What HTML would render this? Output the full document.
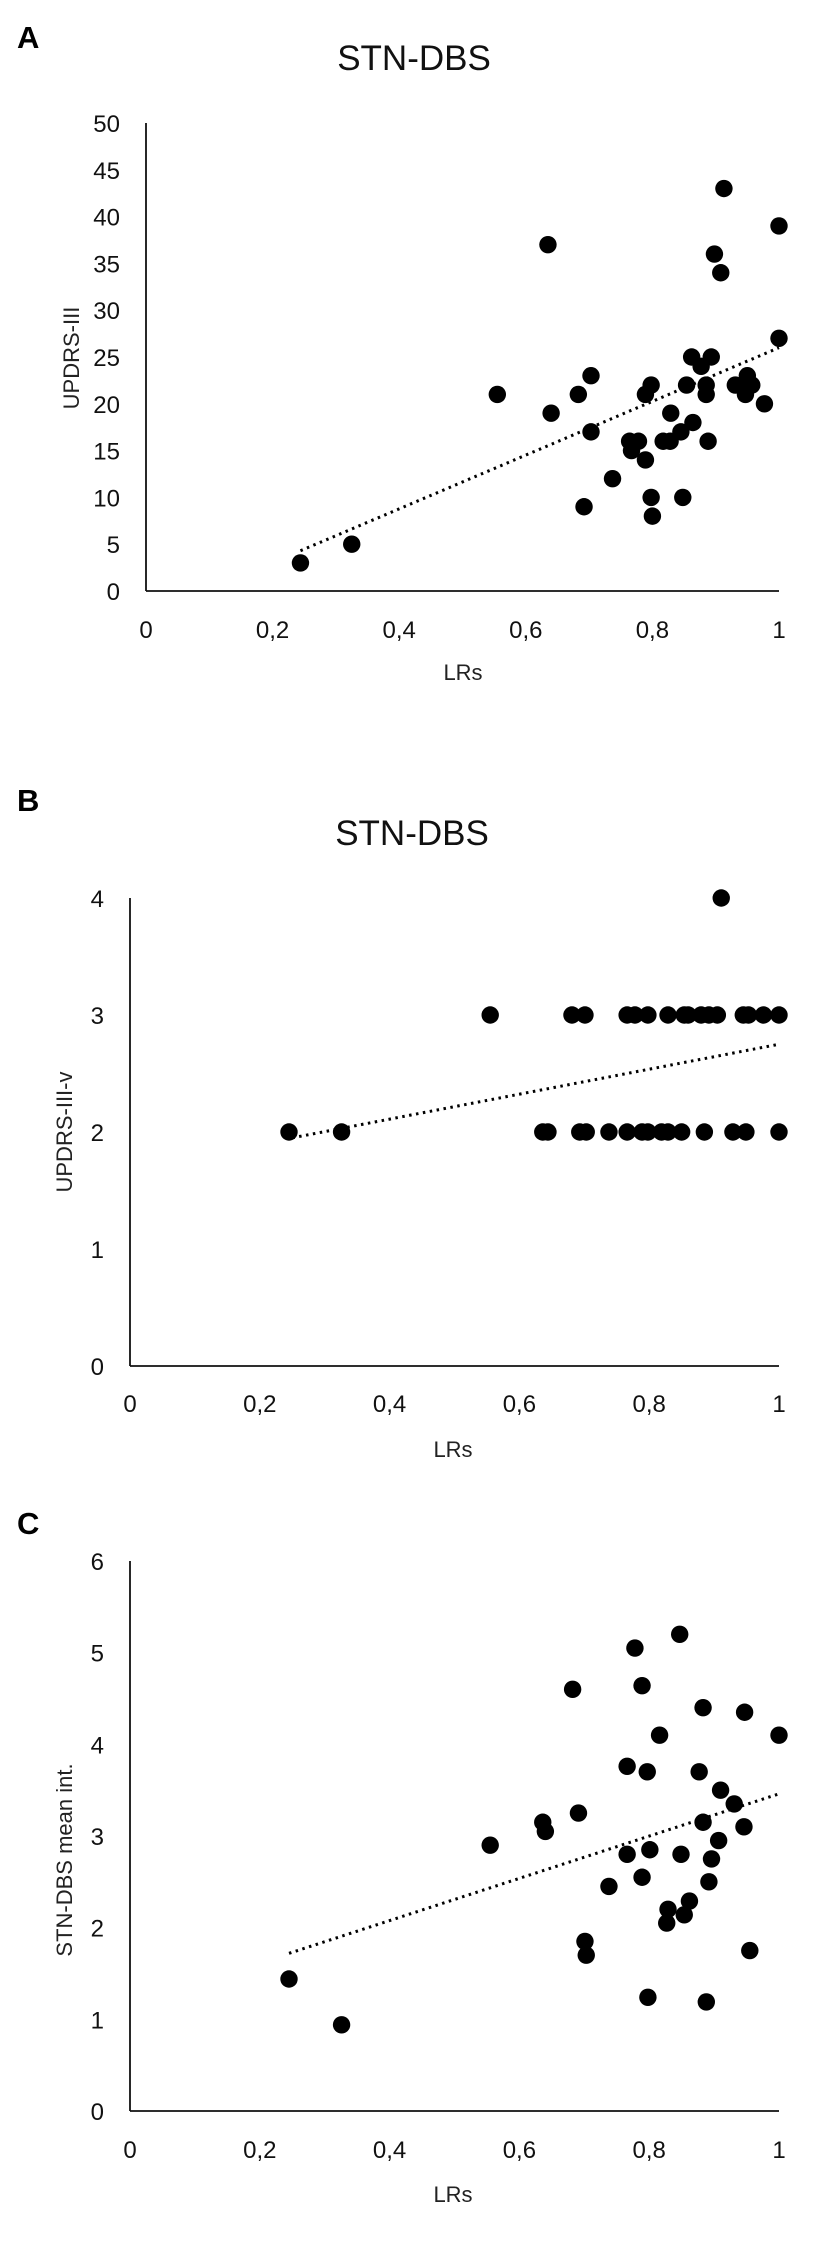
<!DOCTYPE html>
<html><head><meta charset="utf-8"><style>
html,body{margin:0;padding:0;background:#fff;}
svg{display:block;font-family:"Liberation Sans",sans-serif;}
</style></head><body>
<svg id="fig" width="827" height="2255" viewBox="0 0 827 2255" xmlns="http://www.w3.org/2000/svg">
<rect width="827" height="2255" fill="#fff"/>
</svg>
<script>
// Panel A data
const aX = [.244,.325,.555,.635,.64,.683,.692,.703,.703,.737,.764,.767,.778,.789,.789,.798,.798,.8,.817,.828,.829,.845,.848,.854,.864,.862,.877,.885,.885,.888,.893,.898,.908,.913,.931,.95,.947,.957,.977,1.0,1.0];
const aY = [3,5,21,37,19,21,9,23,17,12,16,15,16,14,21,22,10,8,16,16,19,17,10,22,18,25,24,22,21,16,25,36,34,43,22,23,21,22,20,39,27];
const aTrend = [[0.244,4.3],[1.0,26]];
const aYTicks = ["0","5","10","15","20","25","30","35","40","45","50"];
// Panel B data
const bX = [.555,.681,.701,.766,.778,.798,.829,.854,.86,.88,.892,.905,.945,.953,.976,1.0,
            .245,.326,.636,.644,.693,.703,.738,.766,.789,.798,.819,.829,.85,.885,.929,.949,1.0,.911];
const bY = [3,3,3,3,3,3,3,3,3,3,3,3,3,3,3,3,
            2,2,2,2,2,2,2,2,2,2,2,2,2,2,2,2,2,4];
const bTrend = [[0.25,1.95],[1.0,2.75]];
const bYTicks = ["0","1","2","3","4"];
// Panel C data
const cX = [.245,.326,.555,.636,.64,.682,.691,.701,.703,.738,.766,.766,.778,.789,.789,.797,.801,.798,.816,.829,.827,.847,.849,.854,.862,.877,.883,.883,.892,.888,.896,.907,.91,.931,.946,.947,.955,1.0];
const cY = [1.44,.94,2.9,3.15,3.05,4.6,3.25,1.85,1.7,2.45,3.76,2.8,5.05,4.64,2.55,3.7,2.85,1.24,4.1,2.2,2.05,5.2,2.8,2.14,2.29,3.7,4.4,3.15,2.5,1.19,2.75,2.95,3.5,3.35,3.1,4.35,1.75,4.1];
const cTrend = [[0.245,1.72],[1.0,3.46]];
const cYTicks = ["0","1","2","3","4","5","6"];
const xTicks = ["0","0,2","0,4","0,6","0,8","1"];

const NS="http://www.w3.org/2000/svg";
const svg=document.getElementById('fig');
function mk(tag,attrs,parent,text){const e=document.createElementNS(NS,tag);for(const k in attrs)e.setAttribute(k,attrs[k]);if(text!==undefined)e.textContent=text;(parent||svg).appendChild(e);return e;}

function panel(cfg){
  const g=mk('g',{});
  
  
  const sx=v=>cfg.x0+(cfg.x1-cfg.x0)*v;
  const sy=v=>cfg.y0-(cfg.y0-cfg.yTop)*v/cfg.yMax;
  const lab=mk('text',{x:cfg.labX,y:cfg.labY,'font-size':31,'font-weight':'bold'},g,cfg.id.toUpperCase());
  
  
  if(cfg.title){const t=mk('text',{x:cfg.titleX,y:cfg.titleY,'font-size':35,'text-anchor':'middle',fill:'#111'},g,cfg.title);
    
    }
  const ya=mk('line',{x1:cfg.x0,y1:cfg.yTop,x2:cfg.x0,y2:cfg.y0,stroke:'#111','stroke-width':1.8},g);
  
  
  const xa=mk('line',{x1:cfg.x0,y1:cfg.y0,x2:cfg.x1,y2:cfg.y0,stroke:'#111','stroke-width':1.8},g);
  
  
  cfg.yTicks.forEach((t,i)=>{const v=i*cfg.yMax/(cfg.yTicks.length-1);
    const e=mk('text',{x:cfg.x0-26,y:sy(v)+9,'font-size':24,'text-anchor':'end',fill:'#111'},g,t);
    
    });
  xTicks.forEach((t,i)=>{const e=mk('text',{x:sx(i*0.2),y:cfg.xTickY+9,'font-size':24,'text-anchor':'middle',fill:'#111'},g,t);
    
    });
  const xt=mk('text',{x:cfg.xTitleX,y:cfg.xTitleY+8,'font-size':22,'text-anchor':'middle',fill:'#222'},g,'LRs');
  
  
  const yt=mk('text',{x:0,y:0,'font-size':22,'text-anchor':'middle',fill:'#222',transform:`translate(${cfg.yTitleX+8},${cfg.yTitleY}) rotate(-90)`},g,cfg.yTitle);
  
  
  cfg.xs.forEach((v,i)=>{const c=mk('circle',{cx:sx(v),cy:sy(cfg.ys[i]),r:8.7,fill:'#000'},g);
    
    });
  const tl=mk('line',{x1:sx(cfg.trend[0][0]),y1:sy(cfg.trend[0][1]),x2:sx(cfg.trend[1][0]),y2:sy(cfg.trend[1][1]),stroke:'#000','stroke-width':3,'stroke-dasharray':'2.5 4.5','stroke-linecap':'butt'},g);
  
  
}
panel({id:'a',x0:146,x1:779,y0:591,yTop:123,yMax:50,yTicks:aYTicks,xs:aX,ys:aY,trend:aTrend,
  labX:17,labY:48,title:'STN-DBS',titleX:414,titleY:70,xTickY:629,xTitleX:463,xTitleY:672,yTitleX:71,yTitleY:358,yTitle:'UPDRS-III'});
panel({id:'b',x0:130,x1:779,y0:1366,yTop:898,yMax:4,yTicks:bYTicks,xs:bX,ys:bY,trend:bTrend,
  labX:17,labY:811,title:'STN-DBS',titleX:412,titleY:845,xTickY:1403,xTitleX:453,xTitleY:1449,yTitleX:64,yTitleY:1132,yTitle:'UPDRS-III-v'});
panel({id:'c',x0:130,x1:779,y0:2111,yTop:1561,yMax:6,yTicks:cYTicks,xs:cX,ys:cY,trend:cTrend,
  labX:17,labY:1534,title:null,xTickY:2149,xTitleX:453,xTitleY:2194,yTitleX:64,yTitleY:1860,yTitle:'STN-DBS mean int.'});
</script>
</body></html>
